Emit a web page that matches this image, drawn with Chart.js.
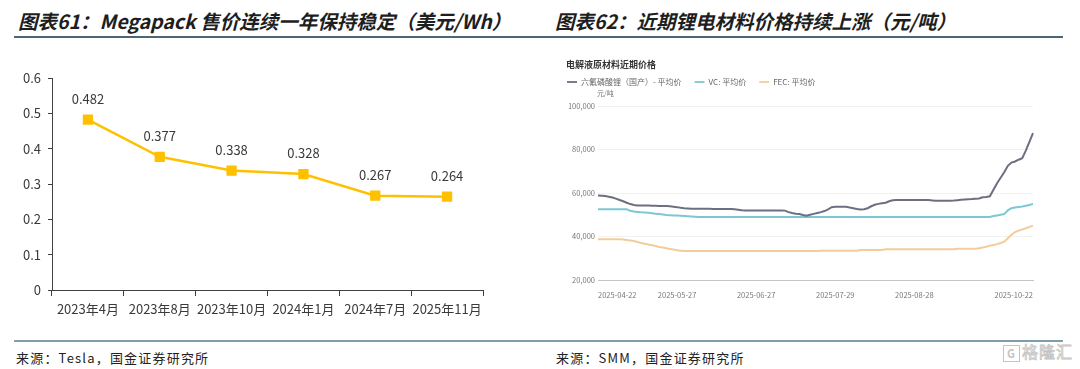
<!DOCTYPE html>
<html><head><meta charset="utf-8">
<script src="https://cdn.jsdelivr.net/npm/chart.js@4.4.1/dist/chart.umd.min.js"></script>
<style>
html,body{margin:0;padding:0;background:#fff;width:1080px;height:369px;overflow:hidden;position:relative;font-family:"Noto Sans CJK SC",sans-serif;}
.title{position:absolute;top:10px;font-size:19.5px;line-height:22px;font-weight:bold;font-style:italic;color:#1e1e1e;white-space:nowrap;}
.rule{position:absolute;left:14px;width:1049px;}
.src{position:absolute;top:350px;font-size:13px;line-height:16px;color:#222;white-space:nowrap;letter-spacing:1.2px;}
canvas{position:absolute;}
.logo{position:absolute;left:1003px;top:342px;font-size:16px;line-height:18px;color:#fff;-webkit-text-stroke:0.8px #c4c4c4;letter-spacing:1px;}
.logo b{display:inline-block;width:15px;height:15px;border:1.5px solid #c4c4c4;font-size:11px;line-height:15px;text-align:center;vertical-align:middle;margin-right:2px;-webkit-text-stroke:0;color:#c4c4c4;}
</style></head><body>
<div class="title" style="left:18px">图表61：Megapack 售价连续一年保持稳定（美元/Wh）</div>
<div class="title" style="left:555px">图表62：近期锂电材料价格持续上涨（元/吨）</div>
<div class="rule" style="top:36px;height:2px;background:#4c6676"></div>
<div class="rule" style="top:340px;height:2px;background:#7f9eac"></div>
<canvas id="c1" width="540" height="290" style="left:0;top:50px"></canvas>
<canvas id="c2" width="500" height="245" style="left:560px;top:55px"></canvas>
<div class="src" style="left:16px">来源：Tesla，国金证券研究所</div>
<div class="src" style="left:556px">来源：SMM，国金证券研究所</div>
<div class="logo"><b>G</b>格隆汇</div>
<script>
// ---- Left chart data ----
const megaCategories = ['2023年4月','2023年8月','2023年10月','2024年1月','2024年7月','2025年11月'];
const megaPrice = [0.482, 0.377, 0.338, 0.328, 0.267, 0.264];
const megaYTicks = [0, 0.1, 0.2, 0.3, 0.4, 0.5, 0.6];

// ---- Right chart data ----
const smmDates = [
'2025-04-22','2025-04-23','2025-04-24','2025-04-25','2025-04-28','2025-04-29','2025-04-30',
'2025-05-06','2025-05-07','2025-05-08','2025-05-09','2025-05-12','2025-05-13','2025-05-14','2025-05-15','2025-05-16',
'2025-05-19','2025-05-20','2025-05-21','2025-05-22','2025-05-23','2025-05-26','2025-05-27','2025-05-28','2025-05-29','2025-05-30',
'2025-06-03','2025-06-04','2025-06-05','2025-06-06','2025-06-09','2025-06-10','2025-06-11','2025-06-12','2025-06-13',
'2025-06-16','2025-06-17','2025-06-18','2025-06-19','2025-06-20','2025-06-23','2025-06-24','2025-06-25','2025-06-26','2025-06-27','2025-06-30',
'2025-07-01','2025-07-02','2025-07-03','2025-07-04','2025-07-07','2025-07-08','2025-07-09','2025-07-10','2025-07-11',
'2025-07-14','2025-07-15','2025-07-16','2025-07-17','2025-07-18','2025-07-21','2025-07-22','2025-07-23','2025-07-24','2025-07-25',
'2025-07-28','2025-07-29','2025-07-30','2025-07-31','2025-08-01','2025-08-04','2025-08-05','2025-08-06','2025-08-07','2025-08-08',
'2025-08-11','2025-08-12','2025-08-13','2025-08-14','2025-08-15','2025-08-18','2025-08-19','2025-08-20','2025-08-21','2025-08-22',
'2025-08-25','2025-08-26','2025-08-27','2025-08-28','2025-08-29','2025-09-01','2025-09-02','2025-09-03','2025-09-04','2025-09-05',
'2025-09-08','2025-09-09','2025-09-10','2025-09-11','2025-09-12','2025-09-15','2025-09-16','2025-09-17','2025-09-18','2025-09-19',
'2025-09-22','2025-09-23','2025-09-24','2025-09-25','2025-09-26','2025-09-29','2025-09-30','2025-10-09','2025-10-10',
'2025-10-13','2025-10-14','2025-10-15','2025-10-16','2025-10-17','2025-10-20','2025-10-21','2025-10-22'];
const smmTickDates = ['2025-04-22','2025-05-27','2025-06-27','2025-07-29','2025-08-28','2025-10-22'];
const smmYTicks = [20000, 40000, 60000, 80000, 100000];
const lipf6 = [
58800,58700,58600,58300,57900,57400,56800,56200,55500,54900,
54500,54300,54200,54200,54200,54100,54100,54000,54000,54000,
53900,53700,53500,53200,53000,52900,52800,52800,52800,52800,
52800,52800,52700,52700,52700,52600,52600,52600,52500,52300,
52100,52000,52000,52000,52000,52000,52000,52000,52000,52000,
52000,52000,51900,51200,50800,50500,50300,49900,49600,50000,
50400,50800,51200,51700,52500,53500,53700,53700,53700,53700,
53300,53000,52600,52400,52500,53000,53900,54600,55000,55300,
55500,56200,56700,56800,56800,56800,56800,56800,56800,56800,
56800,56800,56800,56600,56400,56400,56400,56400,56400,56500,
56700,56900,57000,57100,57200,57400,57500,58000,58200,58500,
61500,64500,67000,69500,72500,74000,74500,75300,76000,79500,
83500,87500];
const vc = [
52500,52500,52500,52500,52500,52500,52500,52500,52500,51800,
51500,51300,51100,51000,50900,50700,50500,50300,50100,49900,
49800,49700,49600,49500,49400,49300,49200,49100,49000,49000,
49000,49000,49000,49000,49000,49000,49000,49000,49000,49000,
49000,49000,49000,49000,49000,49000,49000,49000,49000,49000,
49000,49000,49000,49000,49000,49000,49000,49000,49000,49000,
49000,49000,49000,49000,49000,49000,49000,49000,49000,49000,
49000,49000,49000,49000,49000,49000,49000,49000,49000,49000,
49000,49000,49000,49000,49000,49000,49000,49000,49000,49000,
49000,49000,49000,49000,49000,49000,49000,49000,49000,49000,
49000,49000,49000,49000,49000,49000,49000,49000,49000,49000,
49400,49700,50000,50300,52000,53000,53300,53600,53800,54100,
54500,55000];
const fec = [
38700,38700,38700,38700,38700,38700,38700,38600,38400,38200,
37900,37500,37000,36700,36300,36000,35600,35200,34900,34600,
34300,34000,33700,33500,33300,33300,33300,33300,33300,33300,
33300,33300,33300,33300,33300,33300,33300,33300,33300,33300,
33300,33300,33300,33300,33300,33300,33300,33300,33300,33300,
33300,33300,33300,33300,33300,33300,33300,33300,33300,33300,
33300,33300,33500,33500,33500,33500,33500,33500,33500,33500,
33500,33500,33500,33800,33800,33800,33800,33800,33800,33800,
34100,34100,34100,34100,34100,34100,34100,34100,34100,34100,
34100,34100,34100,34100,34100,34100,34100,34100,34100,34100,
34400,34400,34400,34400,34400,34400,34600,34900,35300,35800,
36100,36500,37000,37600,39200,40800,42000,42700,43200,43800,
44400,45000];
const smmSeriesNames = ['六氟磷酸锂（国产）- 平均价', 'VC: 平均价', 'FEC: 平均价'];

const CJK = '"Noto Sans CJK SC", sans-serif';

// ---------- Left chart ----------
const valueLabels = {
  id: 'valueLabels',
  afterDatasetsDraw(chart) {
    const ctx = chart.ctx;
    const meta = chart.getDatasetMeta(0);
    ctx.save();
    ctx.font = '13px ' + CJK;
    ctx.fillStyle = '#3a3a3a';
    ctx.textAlign = 'center';
    ctx.textBaseline = 'middle';
    meta.data.forEach((pt, i) => {
      ctx.fillText(chart.data.datasets[0].data[i].toFixed(3), pt.x, pt.y - 21);
    });
    ctx.restore();
  }
};
new Chart(document.getElementById('c1'), {
  type: 'line',
  data: {
    labels: megaCategories,
    datasets: [{
      data: megaPrice,
      borderColor: '#FFC000',
      backgroundColor: '#FFC000',
      borderWidth: 2.5,
      pointStyle: 'rect',
      pointRadius: 5.5,
      pointHoverRadius: 5.5,
      tension: 0
    }]
  },
  options: {
    responsive: false,
    devicePixelRatio: 1,
    animation: false,
    events: [],
    layout: { padding: { left: 0, right: 57, top: 28, bottom: 0 } },
    plugins: { legend: { display: false }, tooltip: { enabled: false } },
    scales: {
      x: {
        offset: true,
        afterFit(s) { s.height = 50; },
        grid: { offset: true, drawOnChartArea: false, tickLength: 6, color: '#404040' },
        border: { color: '#404040', width: 1 },
        ticks: { font: { size: 13, family: CJK }, color: '#3a3a3a', padding: 5, maxRotation: 0, autoSkip: false }
      },
      y: {
        min: 0, max: 0.6,
        afterFit(s) { s.width = 52; },
        afterBuildTicks(s) { s.ticks = megaYTicks.map(v => ({ value: v })); },
        grid: { drawOnChartArea: false, tickLength: 4, color: '#404040' },
        border: { color: '#404040', width: 1 },
        ticks: {
          font: { size: 13, family: CJK }, color: '#3a3a3a', padding: 7,
          callback: v => (v === 0 ? '0' : v.toFixed(1))
        }
      }
    }
  },
  plugins: [valueLabels]
});

// ---------- Right chart ----------
const headerPlugin = {
  id: 'header',
  afterDraw(chart) {
    const ctx = chart.ctx;
    ctx.save();
    ctx.textBaseline = 'middle';
    ctx.textAlign = 'left';
    ctx.font = 'bold 9px ' + CJK;
    ctx.fillStyle = '#333';
    ctx.fillText('电解液原材料近期价格', 6, 10);
    // legend
    ctx.font = '8px ' + CJK;
    let x = 7;
    const y = 27;
    chart.data.datasets.forEach(ds => {
      ctx.strokeStyle = ds.borderColor;
      ctx.lineWidth = 1.8;
      ctx.beginPath();
      ctx.moveTo(x, y); ctx.lineTo(x + 10, y); ctx.stroke();
      ctx.fillStyle = '#666';
      ctx.fillText(ds.label, x + 14, y);
      x += 14 + ctx.measureText(ds.label).width + 13;
    });
    // unit
    ctx.font = '7px ' + CJK;
    ctx.fillStyle = '#777';
    ctx.fillText('元/吨', 37, 38);
    ctx.restore();
  }
};
new Chart(document.getElementById('c2'), {
  type: 'line',
  data: {
    labels: smmDates,
    datasets: [
      { label: smmSeriesNames[0], data: lipf6, borderColor: '#6c6f80', borderWidth: 2, pointRadius: 0, tension: 0 },
      { label: smmSeriesNames[1], data: vc, borderColor: '#7cc8d2', borderWidth: 2, pointRadius: 0, tension: 0 },
      { label: smmSeriesNames[2], data: fec, borderColor: '#f3cc9c', borderWidth: 2, pointRadius: 0, tension: 0 }
    ]
  },
  options: {
    responsive: false,
    devicePixelRatio: 1,
    animation: false,
    events: [],
    layout: { padding: { left: 6, right: 27, top: 51, bottom: 0 } },
    plugins: { legend: { display: false }, tooltip: { enabled: false } },
    scales: {
      x: {
        afterFit(s) { s.height = 20; },
        grid: { display: false },
        border: { color: '#c4c4c4', width: 1 },
        ticks: {
          font: { size: 7.5, family: CJK }, color: '#777', padding: 3,
          align: 'inner', maxRotation: 0, autoSkip: false,
          callback(v, i) { const d = smmDates[i]; return smmTickDates.includes(d) ? d : ''; }
        }
      },
      y: {
        min: 20000, max: 100000,
        afterFit(s) { s.width = 32; },
        afterBuildTicks(s) { s.ticks = smmYTicks.map(v => ({ value: v })); },
        grid: { color: '#f1f1f1', drawTicks: false },
        border: { display: false },
        ticks: {
          font: { size: 7.5, family: CJK }, color: '#777', padding: 3,
          callback: v => v.toLocaleString('en-US')
        }
      }
    }
  },
  plugins: [headerPlugin]
});
</script>
</body></html>
